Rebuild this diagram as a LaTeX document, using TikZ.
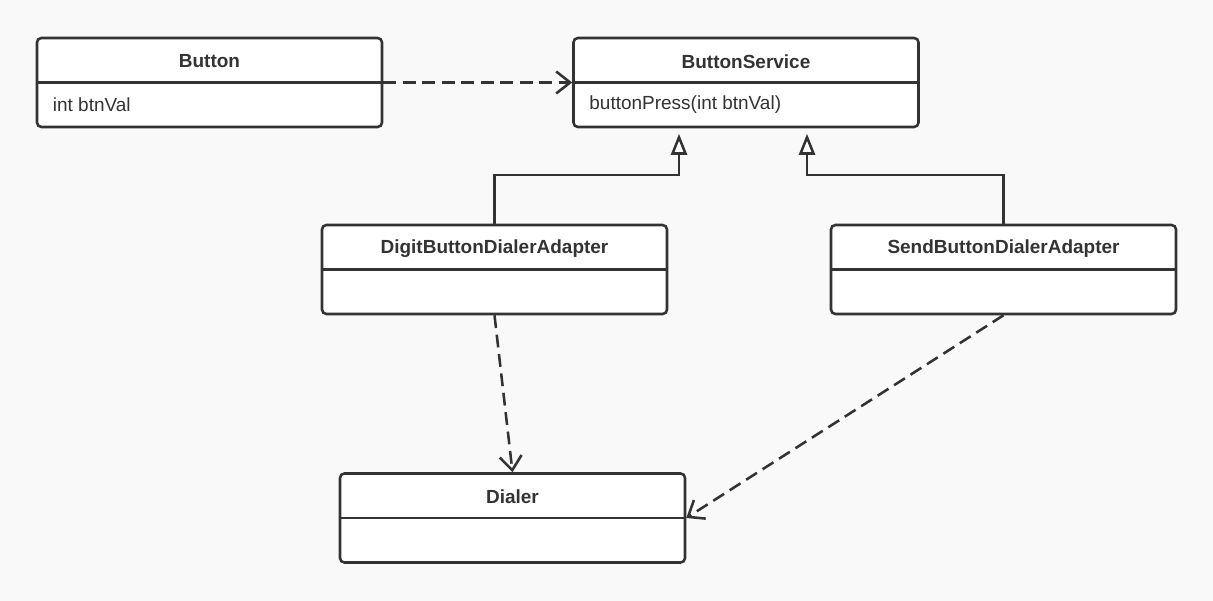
\documentclass[tikz,border=0pt]{standalone}
\usepackage{fontspec}
\setmainfont{Liberation Sans}
\usetikzlibrary{arrows.meta, calc}
\definecolor{umlink}{HTML}{333333}
\definecolor{canvas}{HTML}{F9F9F9}
\tikzset{
  classbox/.style={draw=umlink, line width=1.45pt, rounded corners=2.5pt, fill=white, minimum width=6.9cm, minimum height=1.78cm, inner sep=0pt},
  divider/.style={draw=umlink, line width=1.45pt},
  classname/.style={font=\fontsize{10.8}{13}\selectfont\bfseries, text=umlink},
  member/.style={font=\fontsize{10.8}{13}\selectfont, text=umlink, anchor=west},
  depends/.style={-{Straight Barb[length=2.8mm, width=4.4mm]}, line width=1.45pt, draw=umlink, dash pattern=on 7.3pt off 3.8pt},
  realizes/.style={-{Triangle[open, length=4.2mm, width=3.2mm, fill=white]}, line width=1.45pt, draw=umlink, shorten >=1.1mm}
}

\begin{document}
\begin{tikzpicture}
        \fill[canvas] (0,0) rectangle (24.26,-12.02);
        \useasboundingbox (0,0) rectangle (24.26,-12.02);
        \node[classbox] (button)  at ( 4.19, -1.65) {};
        \node[classbox] (service) at (14.92, -1.65) {};
        \node[classbox] (digit)   at ( 9.89, -5.39) {};
        \node[classbox] (send)    at (20.07, -5.39) {};
        \node[classbox] (dialer)  at (10.25,-10.36) {};
        \draw[divider] (button.west)  -- (button.east);
        \draw[divider] (service.west) -- (service.east);
        \draw[divider] (digit.west)   -- (digit.east);
        \draw[divider] (send.west)    -- (send.east);
        \draw[divider] (dialer.west)  -- (dialer.east);
        \node[classname] (buttonname)  at ($(button.center)+(0,0.42)$)  {Button};
        \node[classname] (servicename) at ($(service.center)+(0,0.42)$) {ButtonService};
        \node[classname] (digitname)   at ($(digit.center)+(0,0.42)$)   {DigitButtonDialerAdapter};
        \node[classname] (sendname)    at ($(send.center)+(0,0.42)$)    {SendButtonDialerAdapter};
        \node[classname] (dialername)  at ($(dialer.center)+(0,0.42)$)  {Dialer};
        \node[member] (btnval) at ($(button.west)+(0.22,-0.45)$)  {int btnVal};
        \node[member] (press)  at ($(service.west)+(0.22,-0.45)$) {buttonPress(int btnVal)};
        \coordinate (digitup) at (13.58,-3.5);
        \coordinate (sendup)  at (16.14,-3.5);
        \draw[depends] (button.east) -- (service.west);
        \draw[realizes] (digit.north) |- (digitup) -- (digitup |- service.south);
        \draw[realizes] (send.north) |- (sendup) -- (sendup |- service.south);
        \draw[depends] (digit.south) -- (dialer.north);
        \draw[depends] (send.south) -- (dialer.east);
      \end{tikzpicture}
\end{document}
